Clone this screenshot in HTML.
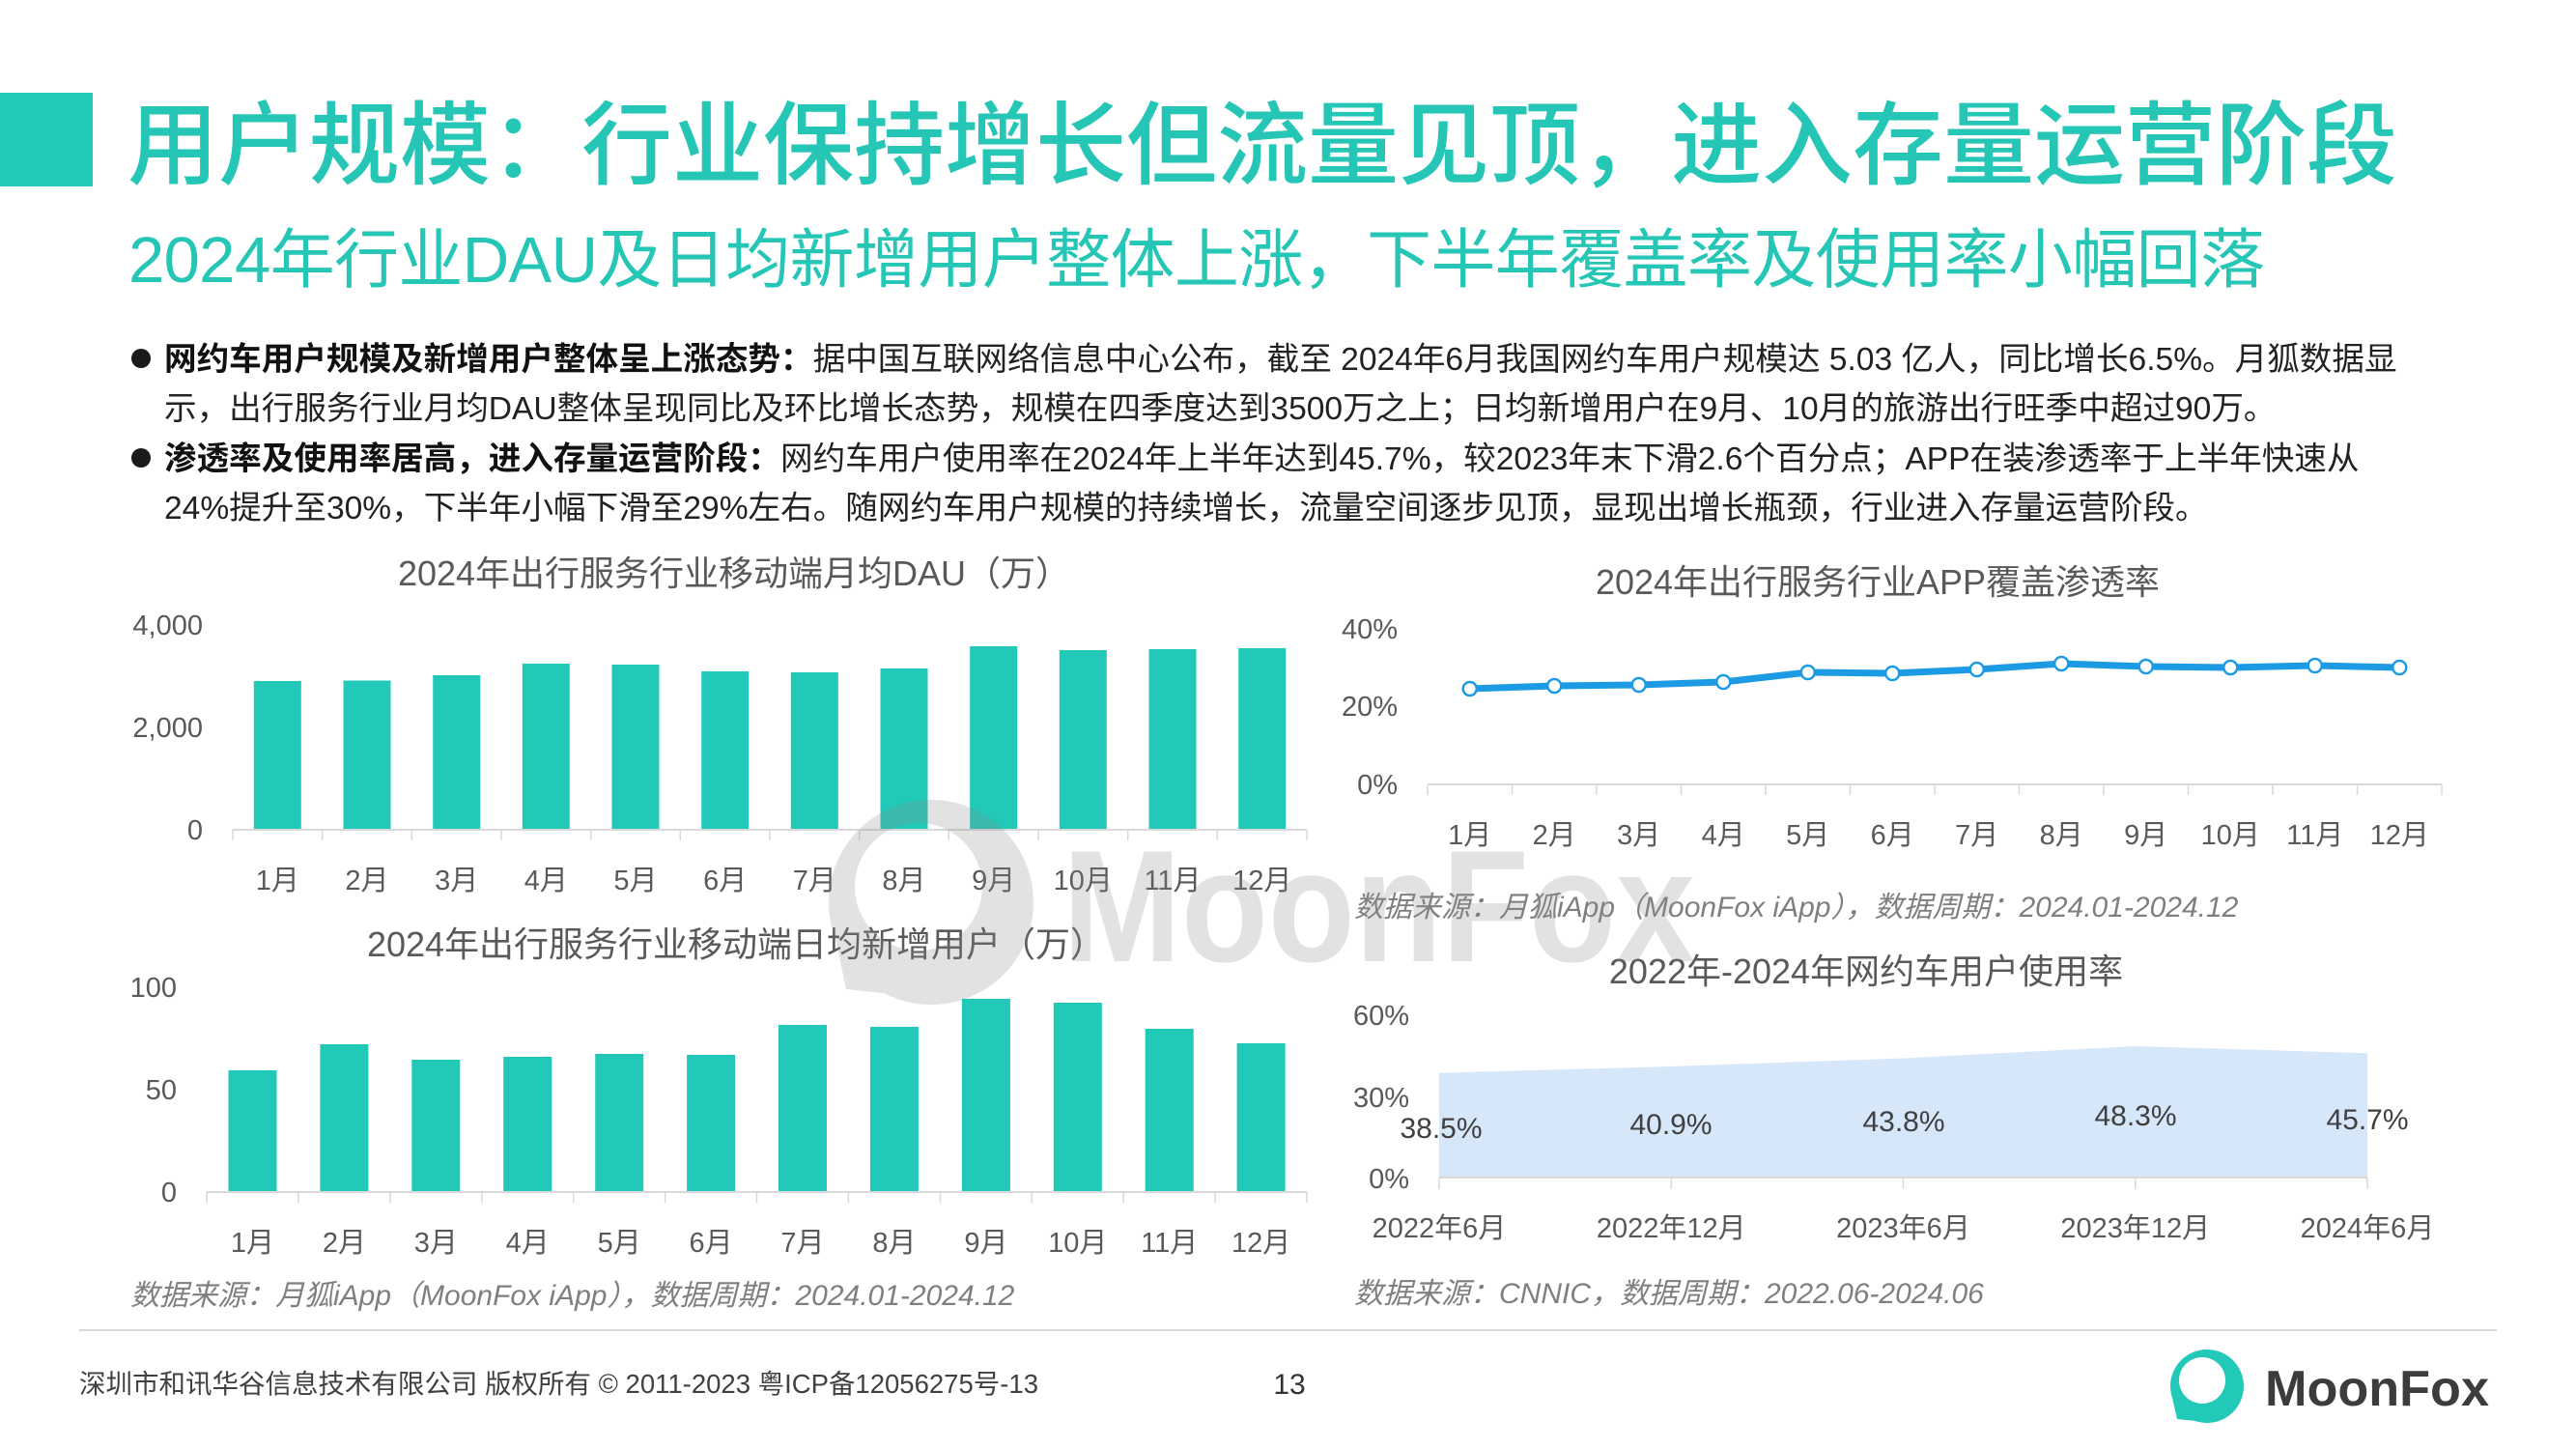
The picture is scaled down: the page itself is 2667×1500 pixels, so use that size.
<!DOCTYPE html>
<html>
<head>
<meta charset="utf-8">
<style>
html,body{margin:0;padding:0;background:#fff;}
svg{display:block;}
text{font-family:"Liberation Sans","Noto Sans CJK SC",sans-serif;}
</style>
</head>
<body>
<svg width="2667" height="1500" viewBox="0 0 2667 1500" xmlns="http://www.w3.org/2000/svg">
<rect x="0" y="0" width="2667" height="1500" fill="#ffffff"/>

<!-- Header -->
<rect x="0" y="96" width="96" height="97" fill="#22c8b8"/>
<text x="132" y="183" font-size="94" font-weight="500" fill="#26c6b6">用户规模：行业保持增长但流量见顶，进入存量运营阶段</text>
<text x="133" y="292" font-size="67" fill="#26c6b6" textLength="2212">2024年行业DAU及日均新增用户整体上涨，下半年覆盖率及使用率小幅回落</text>

<!-- Bullets -->
<circle cx="146" cy="371" r="10" fill="#1a1a1a"/>
<circle cx="146" cy="474" r="10" fill="#1a1a1a"/>
<g font-size="33.6" fill="#222">
<text x="170" y="383"><tspan font-weight="bold" fill="#111">网约车用户规模及新增用户整体呈上涨态势：</tspan>据中国互联网络信息中心公布，截至 2024年6月我国网约车用户规模达 5.03 亿人，同比增长6.5%。月狐数据显</text>
<text x="170" y="434">示，出行服务行业月均DAU整体呈现同比及环比增长态势，规模在四季度达到3500万之上；日均新增用户在9月、10月的旅游出行旺季中超过90万。</text>
<text x="170" y="486"><tspan font-weight="bold" fill="#111">渗透率及使用率居高，进入存量运营阶段：</tspan>网约车用户使用率在2024年上半年达到45.7%，较2023年末下滑2.6个百分点；APP在装渗透率于上半年快速从</text>
<text x="170" y="537">24%提升至30%，下半年小幅下滑至29%左右。随网约车用户规模的持续增长，流量空间逐步见顶，显现出增长瓶颈，行业进入存量运营阶段。</text>
</g>

<!-- Chart 1: DAU -->
<text x="760" y="606" font-size="36" fill="#595959" text-anchor="middle">2024年出行服务行业移动端月均DAU（万）</text>
<g font-size="29" fill="#595959" text-anchor="end">
<text x="210" y="657">4,000</text>
<text x="210" y="763">2,000</text>
<text x="210" y="869">0</text>
</g>
<g fill="#22c9b8">
<rect x="262.8" y="705" width="49" height="153"/>
<rect x="355.5" y="704.5" width="49" height="153.5"/>
<rect x="448.2" y="699" width="49" height="159"/>
<rect x="540.8" y="687" width="49" height="171"/>
<rect x="633.5" y="688" width="49" height="170"/>
<rect x="726.2" y="695" width="49" height="163"/>
<rect x="818.8" y="696" width="49" height="162"/>
<rect x="911.5" y="692" width="49" height="166"/>
<rect x="1004.2" y="669" width="49" height="189"/>
<rect x="1096.8" y="673" width="49" height="185"/>
<rect x="1189.5" y="672" width="49" height="186"/>
<rect x="1282.2" y="671" width="49" height="187"/>
</g>
<line x1="241" y1="859" x2="1353" y2="859" stroke="#d9d9d9" stroke-width="2"/>
<g stroke="#d9d9d9" stroke-width="1.5">
<line x1="241" y1="859" x2="241" y2="870"/><line x1="333.7" y1="859" x2="333.7" y2="870"/><line x1="426.3" y1="859" x2="426.3" y2="870"/><line x1="519" y1="859" x2="519" y2="870"/><line x1="611.7" y1="859" x2="611.7" y2="870"/><line x1="704.3" y1="859" x2="704.3" y2="870"/><line x1="797" y1="859" x2="797" y2="870"/><line x1="889.7" y1="859" x2="889.7" y2="870"/><line x1="982.3" y1="859" x2="982.3" y2="870"/><line x1="1075" y1="859" x2="1075" y2="870"/><line x1="1167.7" y1="859" x2="1167.7" y2="870"/><line x1="1260.3" y1="859" x2="1260.3" y2="870"/><line x1="1353" y1="859" x2="1353" y2="870"/>
</g>
<g font-size="29" fill="#595959" text-anchor="middle">
<text x="287.3" y="921">1月</text><text x="380" y="921">2月</text><text x="472.7" y="921">3月</text><text x="565.3" y="921">4月</text><text x="658" y="921">5月</text><text x="750.7" y="921">6月</text><text x="843.3" y="921">7月</text><text x="936" y="921">8月</text><text x="1028.7" y="921">9月</text><text x="1121.3" y="921">10月</text><text x="1214" y="921">11月</text><text x="1306.7" y="921">12月</text>
</g>

<!-- Chart 2: new users -->
<text x="762" y="990" font-size="36" fill="#595959" text-anchor="middle">2024年出行服务行业移动端日均新增用户（万）</text>
<g font-size="29" fill="#595959" text-anchor="end">
<text x="183" y="1032">100</text>
<text x="183" y="1138">50</text>
<text x="183" y="1244">0</text>
</g>
<g fill="#22c9b8">
<rect x="236.5" y="1108" width="50" height="125"/>
<rect x="331.4" y="1081" width="50" height="152"/>
<rect x="426.3" y="1097" width="50" height="136"/>
<rect x="521.2" y="1094" width="50" height="139"/>
<rect x="616.2" y="1091" width="50" height="142"/>
<rect x="711.1" y="1092" width="50" height="141"/>
<rect x="806" y="1061" width="50" height="172"/>
<rect x="900.9" y="1063" width="50" height="170"/>
<rect x="995.9" y="1034" width="50" height="199"/>
<rect x="1090.8" y="1038" width="50" height="195"/>
<rect x="1185.7" y="1065" width="50" height="168"/>
<rect x="1280.6" y="1080" width="50" height="153"/>
</g>
<line x1="214" y1="1234" x2="1353" y2="1234" stroke="#d9d9d9" stroke-width="2"/>
<g stroke="#d9d9d9" stroke-width="1.5">
<line x1="214" y1="1234" x2="214" y2="1245"/><line x1="308.9" y1="1234" x2="308.9" y2="1245"/><line x1="403.8" y1="1234" x2="403.8" y2="1245"/><line x1="498.8" y1="1234" x2="498.8" y2="1245"/><line x1="593.7" y1="1234" x2="593.7" y2="1245"/><line x1="688.6" y1="1234" x2="688.6" y2="1245"/><line x1="783.5" y1="1234" x2="783.5" y2="1245"/><line x1="878.4" y1="1234" x2="878.4" y2="1245"/><line x1="973.4" y1="1234" x2="973.4" y2="1245"/><line x1="1068.3" y1="1234" x2="1068.3" y2="1245"/><line x1="1163.2" y1="1234" x2="1163.2" y2="1245"/><line x1="1258.1" y1="1234" x2="1258.1" y2="1245"/><line x1="1353" y1="1234" x2="1353" y2="1245"/>
</g>
<g font-size="29" fill="#595959" text-anchor="middle">
<text x="261.5" y="1296">1月</text><text x="356.4" y="1296">2月</text><text x="451.3" y="1296">3月</text><text x="546.2" y="1296">4月</text><text x="641.2" y="1296">5月</text><text x="736.1" y="1296">6月</text><text x="831" y="1296">7月</text><text x="925.9" y="1296">8月</text><text x="1020.9" y="1296">9月</text><text x="1115.8" y="1296">10月</text><text x="1210.7" y="1296">11月</text><text x="1305.6" y="1296">12月</text>
</g>
<text x="135" y="1351" font-size="30" font-style="italic" fill="#7f7f7f">数据来源：月狐iApp（MoonFox iApp），数据周期：2024.01-2024.12</text>

<!-- Chart 3: penetration line -->
<text x="1944" y="615" font-size="36" fill="#595959" text-anchor="middle">2024年出行服务行业APP覆盖渗透率</text>
<g font-size="29" fill="#595959" text-anchor="end">
<text x="1447" y="661">40%</text>
<text x="1447" y="741">20%</text>
<text x="1447" y="822">0%</text>
</g>
<line x1="1478" y1="812" x2="2528" y2="812" stroke="#d9d9d9" stroke-width="2"/>
<g stroke="#d9d9d9" stroke-width="1.5">
<line x1="1478" y1="812" x2="1478" y2="823"/><line x1="1565.5" y1="812" x2="1565.5" y2="823"/><line x1="1653" y1="812" x2="1653" y2="823"/><line x1="1740.5" y1="812" x2="1740.5" y2="823"/><line x1="1828" y1="812" x2="1828" y2="823"/><line x1="1915.5" y1="812" x2="1915.5" y2="823"/><line x1="2003" y1="812" x2="2003" y2="823"/><line x1="2090.5" y1="812" x2="2090.5" y2="823"/><line x1="2178" y1="812" x2="2178" y2="823"/><line x1="2265.5" y1="812" x2="2265.5" y2="823"/><line x1="2353" y1="812" x2="2353" y2="823"/><line x1="2440.5" y1="812" x2="2440.5" y2="823"/><line x1="2528" y1="812" x2="2528" y2="823"/>
</g>
<polyline points="1521.75,713 1609.25,710 1696.75,709 1784.25,706 1871.75,696 1959.25,697 2046.75,693 2134.25,687 2221.75,690 2309.25,691 2396.75,689 2484.25,691" fill="none" stroke="#1c9be4" stroke-width="7" stroke-linejoin="round"/>
<g fill="#ffffff" stroke="#1c9be4" stroke-width="2.5">
<circle cx="1521.75" cy="713" r="7"/><circle cx="1609.25" cy="710" r="7"/><circle cx="1696.75" cy="709" r="7"/><circle cx="1784.25" cy="706" r="7"/><circle cx="1871.75" cy="696" r="7"/><circle cx="1959.25" cy="697" r="7"/><circle cx="2046.75" cy="693" r="7"/><circle cx="2134.25" cy="687" r="7"/><circle cx="2221.75" cy="690" r="7"/><circle cx="2309.25" cy="691" r="7"/><circle cx="2396.75" cy="689" r="7"/><circle cx="2484.25" cy="691" r="7"/>
</g>
<g font-size="29" fill="#595959" text-anchor="middle">
<text x="1521.75" y="874">1月</text><text x="1609.25" y="874">2月</text><text x="1696.75" y="874">3月</text><text x="1784.25" y="874">4月</text><text x="1871.75" y="874">5月</text><text x="1959.25" y="874">6月</text><text x="2046.75" y="874">7月</text><text x="2134.25" y="874">8月</text><text x="2221.75" y="874">9月</text><text x="2309.25" y="874">10月</text><text x="2396.75" y="874">11月</text><text x="2484.25" y="874">12月</text>
</g>
<text x="1402" y="949" font-size="30" font-style="italic" fill="#7f7f7f">数据来源：月狐iApp（MoonFox iApp），数据周期：2024.01-2024.12</text>

<!-- Chart 4: usage area -->
<text x="1932" y="1018" font-size="36" fill="#595959" text-anchor="middle">2022年-2024年网约车用户使用率</text>
<g font-size="29" fill="#595959" text-anchor="end">
<text x="1459" y="1061">60%</text>
<text x="1459" y="1146">30%</text>
<text x="1459" y="1230">0%</text>
</g>
<polygon points="1490,1219 1490,1110.7 1730.25,1104 1970.5,1095.5 2210.75,1083 2451,1090.3 2451,1219" fill="#d6e7fa"/>
<line x1="1490" y1="1219" x2="2451" y2="1219" stroke="#d9d9d9" stroke-width="2"/>
<g stroke="#d9d9d9" stroke-width="1.5">
<line x1="1490" y1="1219" x2="1490" y2="1231"/><line x1="1730.25" y1="1219" x2="1730.25" y2="1231"/><line x1="1970.5" y1="1219" x2="1970.5" y2="1231"/><line x1="2210.75" y1="1219" x2="2210.75" y2="1231"/><line x1="2451" y1="1219" x2="2451" y2="1231"/>
</g>
<g font-size="30" fill="#404040" text-anchor="middle">
<text x="1492" y="1178">38.5%</text>
<text x="1730" y="1174">40.9%</text>
<text x="1971" y="1171">43.8%</text>
<text x="2211" y="1165">48.3%</text>
<text x="2451" y="1169">45.7%</text>
</g>
<g font-size="29" fill="#595959" text-anchor="middle">
<text x="1490" y="1281">2022年6月</text>
<text x="1730.25" y="1281">2022年12月</text>
<text x="1970.5" y="1281">2023年6月</text>
<text x="2210.75" y="1281">2023年12月</text>
<text x="2451" y="1281">2024年6月</text>
</g>
<text x="1402" y="1349" font-size="30" font-style="italic" fill="#7f7f7f">数据来源：CNNIC，数据周期：2022.06-2024.06</text>

<!-- Watermark -->
<defs>
<mask id="wm" maskUnits="userSpaceOnUse" x="820" y="790" width="300" height="300">
<rect x="820" y="790" width="300" height="300" fill="#000"/>
<circle cx="964" cy="934" r="106" fill="#fff"/>
<polygon points="864,966 876,1024 932,1030" fill="#fff"/>
<circle cx="951" cy="918" r="66" fill="#000"/>
</mask>
</defs>
<rect x="820" y="790" width="300" height="300" fill="#8a8a8a" fill-opacity="0.25" mask="url(#wm)"/>
<text x="1100" y="995" font-size="165" font-weight="bold" textLength="655" lengthAdjust="spacingAndGlyphs" fill="#8a8a8a" fill-opacity="0.25">MoonFox</text>

<!-- Footer -->
<line x1="82" y1="1377" x2="2585" y2="1377" stroke="#d9d9d9" stroke-width="2"/>
<text x="82" y="1442" font-size="27.5" fill="#404040" textLength="993">深圳市和讯华谷信息技术有限公司 版权所有 © 2011-2023 粤ICP备12056275号-13</text>
<text x="1335" y="1443" font-size="30" fill="#333" text-anchor="middle">13</text>
<circle cx="2285" cy="1435" r="38" fill="#22c8b8"/>
<polygon points="2249,1447 2254,1469 2274,1471" fill="#22c8b8"/>
<circle cx="2280" cy="1429" r="24" fill="#ffffff"/>
<text x="2345" y="1455" font-size="52" font-weight="bold" fill="#3c3c3c" textLength="232" lengthAdjust="spacingAndGlyphs">MoonFox</text>
</svg>
</body>
</html>
